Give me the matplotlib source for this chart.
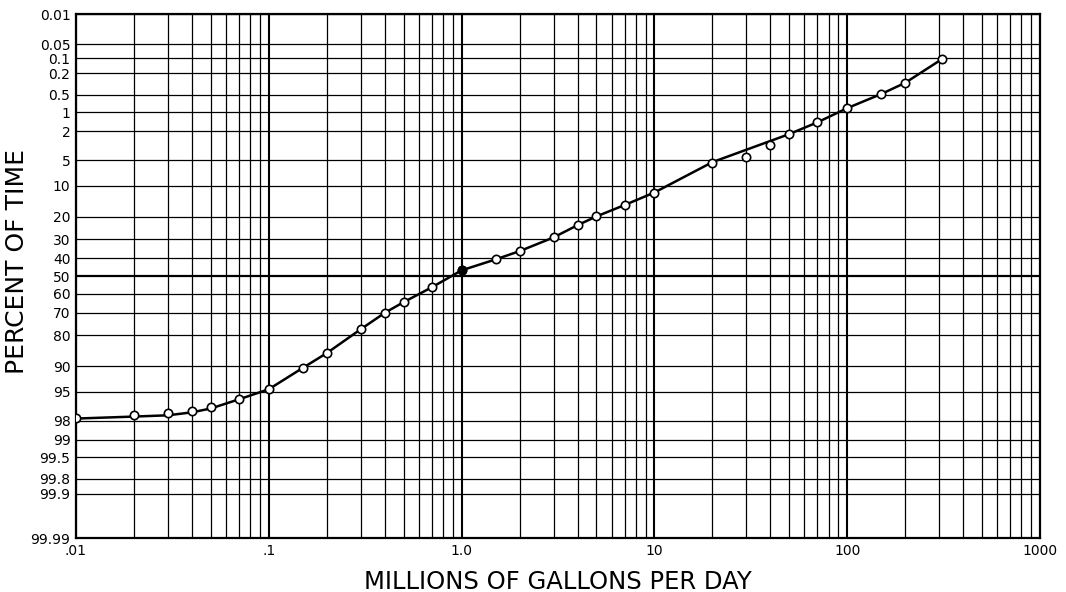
import math
import numpy as np
import matplotlib
matplotlib.use('Agg')
import matplotlib.pyplot as plt

# flow (million gallons per day) vs percent of time
flow = [0.01, 0.02, 0.03, 0.04, 0.05, 0.07, 0.1, 0.15, 0.2, 0.3, 0.4, 0.5, 0.7,
        1.0, 1.5, 2.0, 3.0, 4.0, 5.0, 7.0, 10.0, 20.0, 30.0, 40.0, 50.0, 70.0,
        100.0, 150.0, 200.0, 310.0]
pct = [97.8, 97.6, 97.4, 97.2, 96.9, 96.0, 94.5, 90.4, 86.3, 77.5, 69.9, 64.5, 56.4,
       46.6, 40.5, 36.0, 28.9, 23.3, 19.7, 15.6, 11.8, 5.5, 4.5, 3.16, 2.2, 1.46,
       0.84, 0.486, 0.305, 0.104]

# the drawn curve skips the two low points at 30 and 40
curve_flow = [0.01, 0.02, 0.03, 0.04, 0.05, 0.07, 0.1, 0.15, 0.2, 0.3, 0.4, 0.5, 0.7,
              1.0, 1.5, 2.0, 3.0, 4.0, 5.0, 7.0, 10.0, 20.0, 50.0, 70.0,
              100.0, 150.0, 200.0, 310.0]
curve_pct = [97.85, 97.7, 97.6, 97.35, 97.0, 96.0, 94.6, 90.4, 86.3, 77.5, 69.9, 64.5, 56.4,
             46.8, 40.7, 36.2, 29.2, 23.5, 19.9, 15.7, 11.8, 5.3, 2.2, 1.46,
             0.86, 0.49, 0.305, 0.104]

y_ticks = [0.01, 0.05, 0.1, 0.2, 0.5, 1, 2, 5, 10, 20, 30, 40, 50, 60, 70, 80,
           90, 95, 98, 99, 99.5, 99.8, 99.9, 99.99]
y_labels = ["0.01", "0.05", "0.1", "0.2", "0.5", "1", "2", "5", "10", "20", "30",
            "40", "50", "60", "70", "80", "90", "95", "98", "99", "99.5", "99.8",
            "99.9", "99.99"]
x_ticks = [0.01, 0.1, 1, 10, 100, 1000]
x_labels = [".01", ".1", "1.0", "10", "100", "1000"]


def ppf(p):
    # inverse normal cdf (Acklam approximation), p in (0,1)
    p = np.clip(np.asarray(p, dtype=float), 1e-12, 1 - 1e-12)
    a = [-3.969683028665376e+01, 2.209460984245205e+02, -2.759285104469687e+02,
         1.383577518672690e+02, -3.066479806614716e+01, 2.506628277459239e+00]
    b = [-5.447609879822406e+01, 1.615858368580409e+02, -1.556989798598866e+02,
         6.680131188771972e+01, -1.328068155288572e+01]
    c = [-7.784894002430293e-03, -3.223964580411365e-01, -2.400758277161838e+00,
         -2.549671010228982e+00, 4.374664141464968e+00, 2.938163982698783e+00]
    d = [7.784695709041462e-03, 3.224671290700398e-01, 2.445134137142996e+00,
         3.754408661907416e+00]
    out = np.empty_like(p)
    lo = p < 0.02425
    hi = p > 1 - 0.02425
    mid = ~(lo | hi)
    q = np.sqrt(-2 * np.log(p[lo]))
    out[lo] = (((((c[0]*q+c[1])*q+c[2])*q+c[3])*q+c[4])*q+c[5]) / \
              ((((d[0]*q+d[1])*q+d[2])*q+d[3])*q+1)
    q = np.sqrt(-2 * np.log(1 - p[hi]))
    out[hi] = -(((((c[0]*q+c[1])*q+c[2])*q+c[3])*q+c[4])*q+c[5]) / \
               ((((d[0]*q+d[1])*q+d[2])*q+d[3])*q+1)
    q = p[mid] - 0.5
    r = q * q
    out[mid] = (((((a[0]*r+a[1])*r+a[2])*r+a[3])*r+a[4])*r+a[5])*q / \
               (((((b[0]*r+b[1])*r+b[2])*r+b[3])*r+b[4])*r+1)
    return out


_erf = np.vectorize(math.erf)


def fwd(pc):
    return ppf(np.asarray(pc, dtype=float) / 100.0)


def inv(z):
    return 50.0 * (1 + _erf(np.asarray(z, dtype=float) / math.sqrt(2)))


fig = plt.figure(figsize=(10.66, 5.92), dpi=100)
ax = fig.add_axes([76/1066, 1 - 538/592, (1040 - 76)/1066, (538 - 14)/592])
ax.set_xscale('log')
ax.set_yscale('function', functions=(fwd, inv))
ax.set_xlim(0.01, 1000)
ax.set_ylim(99.99, 0.01)

# grid
for yv in y_ticks:
    ax.axhline(yv, color='black', lw=1.6 if yv == 50 else 0.9, zorder=1)
for dec in [0.01, 0.1, 1, 10, 100]:
    for m in range(1, 10):
        xv = dec * m
        ax.axvline(xv, color='black', lw=1.5 if m == 1 else 0.9, zorder=1)

ax.plot(curve_flow, curve_pct, color='black', lw=1.8, zorder=3)
ax.plot(flow, pct, linestyle='none', marker='o', markersize=6, mfc='white',
        mec='black', mew=1.2, zorder=4)
ax.plot([1.0], [46.6], linestyle='none', marker='o', markersize=6, mfc='black',
        mec='black', zorder=5)

ax.set_yticks(y_ticks)
ax.set_yticklabels(y_labels)
ax.set_xticks(x_ticks)
ax.set_xticklabels(x_labels)
ax.xaxis.set_minor_locator(matplotlib.ticker.NullLocator())
ax.yaxis.set_minor_locator(matplotlib.ticker.NullLocator())
ax.tick_params(length=0, labelsize=10, pad=4)

for s in ax.spines.values():
    s.set_linewidth(1.6)

ax.set_xlabel("MILLIONS OF GALLONS PER DAY", fontsize=17.5, labelpad=9)
fig.text(17/1066, 1 - 262/592, "PERCENT OF TIME", fontsize=18, rotation=90,
         ha='center', va='center')

fig.savefig("out.png", dpi=100)
